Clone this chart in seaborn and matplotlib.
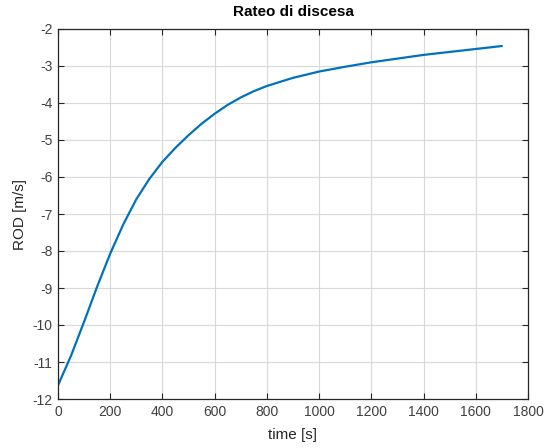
import matplotlib
matplotlib.use("Agg")
import matplotlib.pyplot as plt
import seaborn as sns
import pandas as pd

# Rate of descent over time
time_s = [0, 50, 100, 150, 200, 250, 300, 350, 400, 450, 500, 550, 600, 650,
          700, 750, 800, 900, 1000, 1100, 1200, 1300, 1400, 1500, 1600, 1700]
rod_ms = [-11.63, -10.83, -9.91, -8.96, -8.07, -7.28, -6.60, -6.05, -5.59,
          -5.21, -4.87, -4.56, -4.29, -4.05, -3.85, -3.68, -3.54, -3.32,
          -3.15, -3.02, -2.90, -2.80, -2.70, -2.62, -2.54, -2.46]

x_ticks = [0, 200, 400, 600, 800, 1000, 1200, 1400, 1600, 1800]
y_ticks = [-12, -11, -10, -9, -8, -7, -6, -5, -4, -3, -2]

sns.set_style("whitegrid")
plt.rcParams["font.family"] = ["Liberation Sans", "DejaVu Sans"]

df = pd.DataFrame({"time": time_s, "rod": rod_ms})

fig = plt.figure(figsize=(5.44, 4.48), dpi=100)
ax = fig.add_axes([58 / 544, 1 - 399 / 448, 470 / 544, 370 / 448])

sns.lineplot(data=df, x="time", y="rod", ax=ax, color="#0072BD", linewidth=1.6)

ax.set_xlim(0, 1800)
ax.set_ylim(-12, -2)
ax.set_xticks(x_ticks)
ax.set_yticks(y_ticks)
ax.set_xticklabels([str(v) for v in x_ticks])
ax.set_yticklabels([str(v) for v in y_ticks])

ax.grid(True, color="#d9d9d9", linewidth=0.8)
for side in ["left", "bottom", "top", "right"]:
    ax.spines[side].set_visible(True)
    ax.spines[side].set_color("#262626")
    ax.spines[side].set_linewidth(0.9)

ax.tick_params(axis="both", direction="in", length=4, width=0.8,
               colors="#262626", labelsize=10, labelcolor="#404040",
               top=True, right=True, bottom=True, left=True, pad=4)

ax.set_xlabel("time [s]", fontsize=11, color="#262626", labelpad=7)
ax.set_ylabel("ROD [m/s]", fontsize=11, color="#262626", labelpad=4)
ax.set_title("Rateo di discesa", fontsize=11, fontweight="bold",
             color="#000000", pad=9)

fig.savefig("out.png", dpi=100, facecolor="white")
